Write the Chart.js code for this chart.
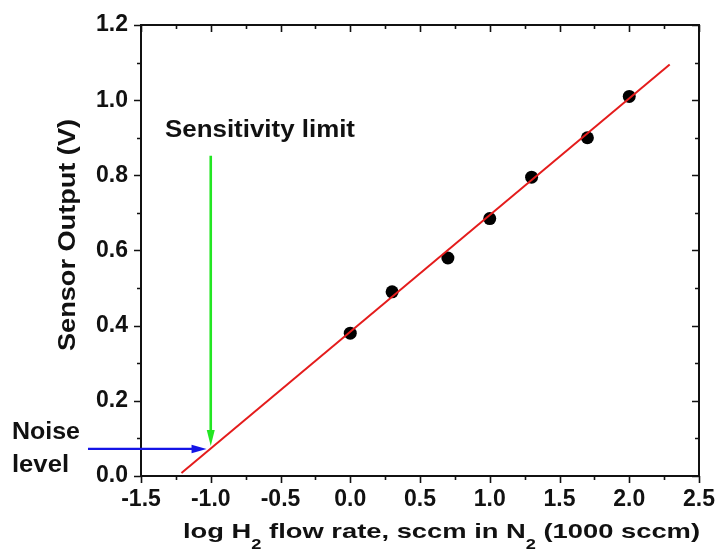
<!DOCTYPE html>
<html>
<head>
<meta charset="utf-8">
<script src="https://cdn.jsdelivr.net/npm/chart.js@4/dist/chart.umd.min.js"></script>
<style>
  html, body { margin: 0; padding: 0; background: #fff; }
  #wrap { width: 717px; height: 555px; }
</style>
</head>
<body>
<div id="wrap"><canvas id="c" width="717" height="555"></canvas></div>
<script>
// Calibration data: log10 of H2 flow (sccm) vs sensor output (V)
const flowLog = [0.0, 0.3, 0.7, 1.0, 1.3, 1.7, 2.0];
const sensorOutput = [0.38, 0.49, 0.58, 0.685, 0.795, 0.90, 1.01];

// Linear fit, extended down to the noise floor
const fitX = [-1.21, 2.29];
const fitY = [0.008, 1.095];

// Noise level (V) and the sensitivity limit it implies
const noiseLevel = 0.072;
const noiseArrowX = [-1.88, -1.03];
const sensitivityX = -1.0;
const sensitivityArrowY = [0.852, 0.08];

// Axis ranges / tick steps
const xRange = [-1.5, 2.5];
const yRange = [0.0, 1.2];
const xMajorStep = 0.5, xMinorStep = 0.25;
const yMajorStep = 0.2, yMinorStep = 0.1;

const FONT = "'Liberation Sans', Arial, sans-serif";

// Draws text horizontally scaled so it spans the requested width
function fitText(ctx, text, x, y, px, width) {
  ctx.font = 'bold ' + px + 'px ' + FONT;
  const w = ctx.measureText(text).width;
  ctx.save();
  ctx.translate(x, y);
  ctx.scale(width / w, 1);
  ctx.fillText(text, 0, 0);
  ctx.restore();
}

function arrowHead(ctx, tipX, tipY, dx, dy, len, half) {
  // dx,dy: unit direction of travel
  const bx = tipX - dx * len, by = tipY - dy * len;
  ctx.beginPath();
  ctx.moveTo(tipX, tipY);
  ctx.lineTo(bx - dy * half, by + dx * half);
  ctx.lineTo(bx + dy * half, by - dx * half);
  ctx.closePath();
  ctx.fill();
}

const framePlugin = {
  id: 'frameAndNotes',
  afterDatasetsDraw(chart) {
    const ctx = chart.ctx;
    const xs = chart.scales.x, ys = chart.scales.y;
    const a = chart.chartArea;
    ctx.save();

    // frame
    ctx.strokeStyle = '#111';
    ctx.lineWidth = 2;
    ctx.strokeRect(a.left, a.top, a.right - a.left, a.bottom - a.top);

    // tick marks: out on bottom/left, in on top/right
    ctx.lineWidth = 1.6;
    ctx.beginPath();
    const nx = Math.round((xRange[1] - xRange[0]) / xMinorStep);
    for (let i = 0; i <= nx; i++) {
      const v = xRange[0] + i * xMinorStep;
      const px = Math.round(xs.getPixelForValue(v)) + 0.5;
      const len = (i % Math.round(xMajorStep / xMinorStep) === 0) ? 7 : 4;
      ctx.moveTo(px, a.bottom); ctx.lineTo(px, a.bottom + len);
      ctx.moveTo(px, a.top); ctx.lineTo(px, a.top + len);
    }
    const ny = Math.round((yRange[1] - yRange[0]) / yMinorStep);
    for (let i = 0; i <= ny; i++) {
      const v = yRange[0] + i * yMinorStep;
      const py = Math.round(ys.getPixelForValue(v)) + 0.5;
      const len = (i % Math.round(yMajorStep / yMinorStep) === 0) ? 7 : 4;
      ctx.moveTo(a.left, py); ctx.lineTo(a.left - len, py);
      ctx.moveTo(a.right, py); ctx.lineTo(a.right - len, py);
    }
    ctx.stroke();

    // noise level arrow (blue, horizontal)
    const nyPx = ys.getPixelForValue(noiseLevel);
    const nx0 = xs.getPixelForValue(noiseArrowX[0]);
    const nx1 = xs.getPixelForValue(noiseArrowX[1]);
    ctx.strokeStyle = '#1414e6';
    ctx.fillStyle = '#1414e6';
    ctx.lineWidth = 2.2;
    ctx.beginPath();
    ctx.moveTo(nx0, nyPx); ctx.lineTo(nx1 - 10, nyPx);
    ctx.stroke();
    arrowHead(ctx, nx1, nyPx, 1, 0, 15, 4.2);

    // sensitivity limit arrow (green, vertical)
    const sx = xs.getPixelForValue(sensitivityX);
    const sy0 = ys.getPixelForValue(sensitivityArrowY[0]);
    const sy1 = ys.getPixelForValue(sensitivityArrowY[1]);
    ctx.strokeStyle = '#22e622';
    ctx.fillStyle = '#22e622';
    ctx.lineWidth = 2.6;
    ctx.beginPath();
    ctx.moveTo(sx, sy0); ctx.lineTo(sx, sy1 - 10);
    ctx.stroke();
    arrowHead(ctx, sx, sy1, 0, 1, 16, 4);

    // annotations
    ctx.fillStyle = '#111';
    ctx.textBaseline = 'alphabetic';
    ctx.textAlign = 'left';
    fitText(ctx, 'Sensitivity limit', 165, 137, 23, 190);
    fitText(ctx, 'Noise', 12, 439, 23, 68);
    fitText(ctx, 'level', 12, 472, 23, 57);

    // y axis title (rotated)
    ctx.save();
    ctx.translate(75, 235);
    ctx.rotate(-Math.PI / 2);
    ctx.textAlign = 'left';
    ctx.font = 'bold 24px ' + FONT;
    const yt = 'Sensor Output (V)';
    const ytw = ctx.measureText(yt).width;
    ctx.scale(232 / ytw, 1);
    ctx.fillText(yt, -ytw / 2, 0);
    ctx.restore();

    // x axis title with subscripts
    const parts = [
      ['log H', false], ['2', true], [' flow rate, sccm in N', false], ['2', true], [' (1000 sccm)', false]
    ];
    const mainPx = 21, subPx = 14;
    let total = 0;
    for (const [t, sub] of parts) {
      ctx.font = 'bold ' + (sub ? subPx : mainPx) + 'px ' + FONT;
      total += ctx.measureText(t).width;
    }
    const startX = 183, base = 538, span = 517;
    ctx.save();
    ctx.translate(startX, base);
    ctx.scale(span / total, 1);
    let cx = 0;
    for (const [t, sub] of parts) {
      ctx.font = 'bold ' + (sub ? subPx : mainPx) + 'px ' + FONT;
      ctx.fillText(t, cx, sub ? 11 : 0);
      cx += ctx.measureText(t).width;
    }
    ctx.restore();

    ctx.restore();
  }
};

const tickFont = { family: FONT, size: 23, weight: 'bold' };

new Chart(document.getElementById('c'), {
  data: {
    datasets: [
      {
        type: 'line',
        label: 'Linear fit',
        data: fitX.map((x, i) => ({ x: x, y: fitY[i] })),
        borderColor: '#e41c1c',
        borderWidth: 2,
        pointRadius: 0,
        fill: false,
        tension: 0
      },
      {
        type: 'scatter',
        label: 'Sensor output',
        data: flowLog.map((x, i) => ({ x: x, y: sensorOutput[i] })),
        backgroundColor: '#000',
        borderColor: '#000',
        borderWidth: 0,
        pointRadius: 6.5
      }
    ]
  },
  options: {
    responsive: false,
    animation: false,
    devicePixelRatio: 1,
    layout: { padding: { top: 25, right: 18, left: 0, bottom: 0 } },
    plugins: { legend: { display: false }, tooltip: { enabled: false } },
    scales: {
      x: {
        type: 'linear',
        min: xRange[0], max: xRange[1],
        border: { display: false },
        grid: { display: true, drawOnChartArea: false, drawTicks: true, tickLength: 7, color: 'rgba(0,0,0,0)' },
        ticks: {
          stepSize: xMajorStep, autoSkip: false, maxRotation: 0, padding: 3,
          color: '#111', font: tickFont,
          callback: v => Number(v).toFixed(1)
        },
        afterFit: s => { s.height = 79; s.paddingLeft = 0; s.paddingRight = 0; }
      },
      y: {
        type: 'linear',
        min: yRange[0], max: yRange[1],
        border: { display: false },
        grid: { display: true, drawOnChartArea: false, drawTicks: true, tickLength: 7, color: 'rgba(0,0,0,0)' },
        ticks: {
          stepSize: yMajorStep, autoSkip: false, padding: 6,
          color: '#111', font: tickFont,
          callback: v => Number(v).toFixed(1)
        },
        afterFit: s => { s.width = 141; s.paddingTop = 0; s.paddingBottom = 0; }
      }
    }
  },
  plugins: [framePlugin]
});
</script>
</body>
</html>
